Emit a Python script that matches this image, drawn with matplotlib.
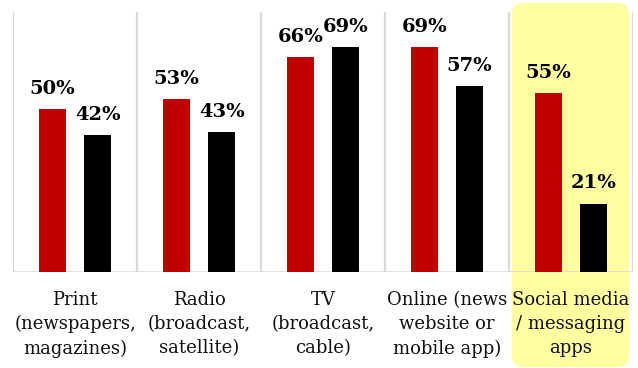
import matplotlib
matplotlib.use("Agg")
import matplotlib.pyplot as plt
from matplotlib.patches import FancyBboxPatch
from matplotlib.transforms import IdentityTransform
import numpy as np

categories = ["Print\n(newspapers,\nmagazines)",
              "Radio\n(broadcast,\nsatellite)",
              "TV\n(broadcast,\ncable)",
              "Online (news\nwebsite or\nmobile app)",
              "Social media\n/ messaging\napps"]
series_red = [50, 53, 66, 69, 55]
series_black = [42, 43, 69, 57, 21]

RED = "#C00000"
GRID = "#D9D9D9"

fig = plt.figure(figsize=(6.38, 3.68), dpi=100)
fig.patch.set_facecolor("white")
ax = fig.add_axes([13/638, (368-272)/368, 620/638, 260.5/368])
ax.set_facecolor("none")

x = np.arange(len(categories))
off = 0.183
w = 0.213
ax.bar(x - off, series_red, width=w, color=RED, zorder=3)
ax.bar(x + off, series_black, width=w, color="black", zorder=3)

ax.set_xlim(-0.5, len(categories) - 0.5)
ax.set_ylim(0, 80)

for s in ax.spines.values():
    s.set_visible(False)
ax.set_xticks([])
ax.set_yticks([])

# separators
for b in np.arange(-0.5, len(categories), 1.0):
    ax.plot([b, b], [0, 80], color=GRID, lw=1.6, zorder=1, solid_capstyle="butt")
ax.plot([-0.5, len(categories) - 0.5], [0, 0], color=GRID, lw=1.8, zorder=2,
        solid_capstyle="butt")

lab_kw = dict(fontfamily="DejaVu Serif", fontweight="bold", fontsize=14,
              ha="center", va="baseline", textcoords="offset points", zorder=4)
for xi, v in zip(x - off, series_red):
    ax.annotate(f"{v}%", (xi, v), xytext=(0, 11), **lab_kw)
for xi, v in zip(x + off, series_black):
    ax.annotate(f"{v}%", (xi, v), xytext=(0, 11), **lab_kw)

for xi, c in zip(x, categories):
    ax.annotate(c, (xi, 0), xytext=(0, -13.5), textcoords="offset points",
                ha="center", va="top", fontfamily="DejaVu Serif", fontsize=13,
                linespacing=1.45, color="#111111")

# highlight box behind last category
hl = len(categories) - 1
x0 = ax.transData.transform((hl - 0.5, 0))[0] + 3
x1 = ax.transData.transform((hl + 0.5, 0))[0] - 4
box = FancyBboxPatch((x0, 1), x1 - x0, 364, boxstyle="round,pad=0,rounding_size=11",
                     facecolor="#FFFF9F", edgecolor="none",
                     transform=IdentityTransform(), zorder=-1)
fig.patches.append(box)

fig.savefig("out.png", dpi=100, facecolor="white")
